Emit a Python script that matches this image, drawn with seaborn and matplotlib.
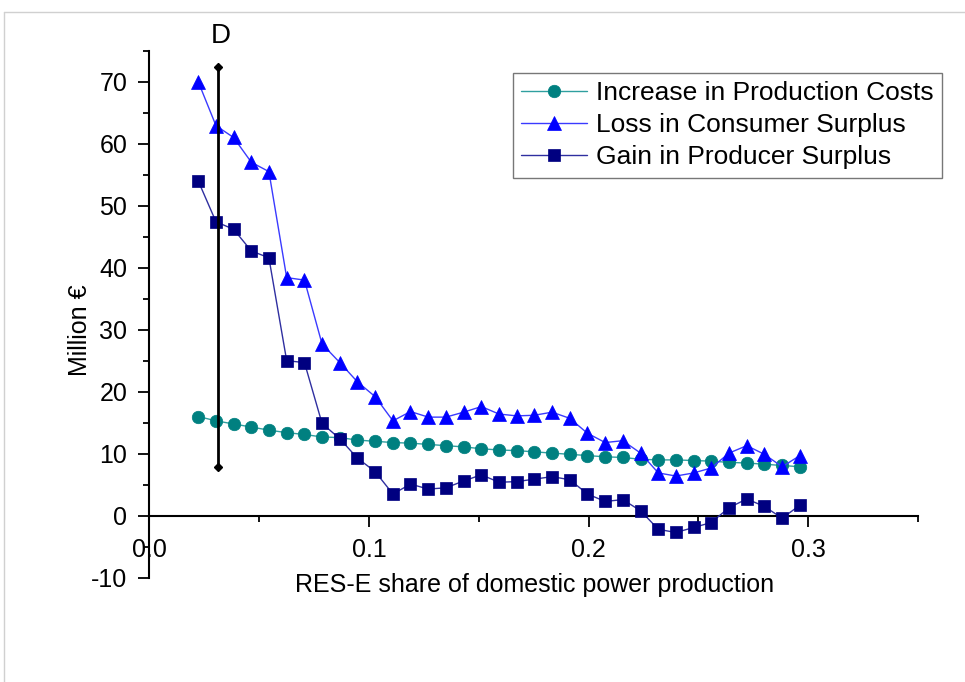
import numpy as np
import pandas as pd
import matplotlib
matplotlib.use("Agg")
import matplotlib.pyplot as plt
from matplotlib.lines import Line2D
from matplotlib.ticker import MultipleLocator
import seaborn as sns

# RES-E share (x) for every scenario point
res_share = [0.0222, 0.0303, 0.0383, 0.0464, 0.0544, 0.0625, 0.0706, 0.0786,
             0.0867, 0.0947, 0.1028, 0.1109, 0.1189, 0.1270, 0.1350, 0.1431,
             0.1512, 0.1592, 0.1673, 0.1753, 0.1834, 0.1915, 0.1995, 0.2076,
             0.2156, 0.2237, 0.2318, 0.2398, 0.2479, 0.2559, 0.2640, 0.2721,
             0.2801, 0.2882, 0.2963]

production_costs = [16.0, 15.3, 14.8, 14.3, 13.8, 13.4, 13.1, 12.7, 12.6, 12.2,
                    12.0, 11.8, 11.7, 11.5, 11.3, 11.1, 10.8, 10.6, 10.5, 10.3,
                    10.1, 9.9, 9.7, 9.5, 9.4, 9.1, 9.0, 9.0, 8.9, 8.8,
                    8.6, 8.5, 8.3, 8.1, 7.9]

consumer_surplus_loss = [70.0, 62.9, 61.0, 57.0, 55.5, 38.4, 38.0, 27.7, 24.7, 21.6,
                         19.2, 15.3, 16.8, 15.9, 15.9, 16.7, 17.6, 16.4, 16.1, 16.2,
                         16.7, 15.7, 13.3, 11.8, 12.1, 10.1, 6.9, 6.4, 6.9, 7.7,
                         10.1, 11.3, 9.9, 7.9, 9.7]

producer_surplus_gain = [54.0, 47.4, 46.2, 42.7, 41.6, 25.0, 24.7, 14.9, 12.4, 9.3,
                         7.1, 3.5, 5.1, 4.3, 4.5, 5.6, 6.6, 5.4, 5.5, 5.9,
                         6.3, 5.8, 3.5, 2.3, 2.6, 0.8, -2.2, -2.7, -1.9, -1.1,
                         1.3, 2.7, 1.5, -0.4, 1.7]

series_labels = ["Increase in Production Costs", "Loss in Consumer Surplus",
                 "Gain in Producer Surplus"]

# marker "D" range bar
d_share = 0.031
d_low, d_high = 7.9, 72.3

x_ticks = [0.0, 0.1, 0.2, 0.3]
y_ticks = [-10, 0, 10, 20, 30, 40, 50, 60, 70]


def main():
    sns.set_style("ticks")
    plt.rcParams["font.family"] = ["Liberation Sans", "DejaVu Sans"]
    plt.rcParams["font.size"] = 18
    plt.rcParams["axes.unicode_minus"] = False
    for key in ("text.color", "axes.labelcolor", "xtick.color",
                "ytick.color", "axes.edgecolor"):
        plt.rcParams[key] = "black"

    fig = plt.figure(figsize=(9.65, 6.82), dpi=100)
    ax = fig.add_axes([0.1549, 0.1529, 0.7962, 0.7728])

    styles = [
        (production_costs, "o", "#008080", "#2f9f9f", 9.0),
        (consumer_surplus_loss, "^", "#0000ff", "#3a3aff", 10.5),
        (producer_surplus_gain, "s", "#000080", "#2f2fa0", 8.0),
    ]
    for (vals, mk, mcol, lcol, ms), lab in zip(styles, series_labels):
        sns.lineplot(x=res_share, y=vals, ax=ax, color=lcol, linewidth=1.0,
                     marker=mk, markersize=ms, markerfacecolor=mcol,
                     markeredgecolor=mcol, markeredgewidth=0.5, label=lab,
                     sort=False, zorder=3)

    ax.plot([d_share, d_share], [d_low, d_high], color="black", linewidth=2,
            marker="D", markersize=4, zorder=4)
    ax.text(d_share + 0.0015, 77.3, "D", ha="center", va="center",
            fontsize=20, clip_on=False)

    ax.set_xlim(0, 0.35)
    ax.set_ylim(-10, 75)
    ax.spines["top"].set_visible(False)
    ax.spines["right"].set_visible(False)
    ax.spines["bottom"].set_position(("data", 0))
    for sp in ("left", "bottom"):
        ax.spines[sp].set_linewidth(1.5)
        ax.spines[sp].set_color("black")

    ax.set_xticks(x_ticks)
    ax.set_xticklabels([f"{t:.1f}" for t in x_ticks])
    ax.xaxis.set_minor_locator(MultipleLocator(0.05))
    ax.set_yticks(y_ticks)
    ax.yaxis.set_minor_locator(MultipleLocator(5))
    ax.tick_params(axis="both", which="major", direction="out", length=8,
                   width=1.3, labelsize=18, pad=8, colors="black")
    ax.tick_params(axis="both", which="minor", direction="out", length=4.5,
                   width=1.3, colors="black")

    ax.set_xlabel("RES-E share of domestic power production", fontsize=18)
    ax.set_ylabel("Million €", fontsize=18)
    ax.xaxis.label.set_va("center")
    ax.yaxis.label.set_va("center")
    ax.xaxis.set_label_coords(0.5007, -0.0139)
    ax.yaxis.set_label_coords(-0.0905, 0.470)

    leg = ax.legend(loc="upper right", bbox_to_anchor=(1.032, 0.9577),
                    borderaxespad=0, frameon=True, fancybox=False,
                    fontsize=19, handlelength=2.5, handletextpad=0.35,
                    labelspacing=0.3, borderpad=0.32)
    leg.get_frame().set_edgecolor("#555555")
    leg.get_frame().set_linewidth(1.0)
    for t in leg.get_texts():
        t.set_color("black")

    # light frame around the picture
    fig.add_artist(Line2D([4 / 965, 4 / 965], [0, 1 - 12 / 682],
                          transform=fig.transFigure, color="#d0d0d0", lw=1))
    fig.add_artist(Line2D([4 / 965, 1], [1 - 12 / 682, 1 - 12 / 682],
                          transform=fig.transFigure, color="#d0d0d0", lw=1))

    fig.savefig("out.png", dpi=100, facecolor="white")
    plt.close(fig)


if __name__ == "__main__":
    main()
